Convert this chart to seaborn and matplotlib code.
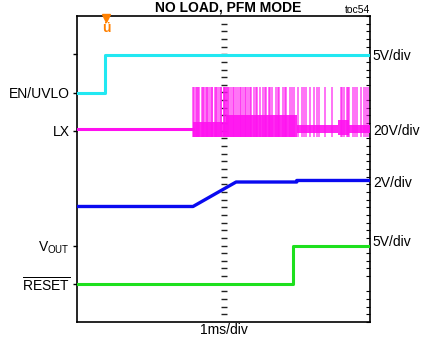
import numpy as np
import pandas as pd
import matplotlib
matplotlib.use("Agg")
import matplotlib.pyplot as plt
from matplotlib.ticker import MultipleLocator
import seaborn as sns

# ---- data (oscilloscope divisions: x 0..10, y 0..8) ----
en_x = [0.0, 0.95, 0.95, 10.0]
en_y = [6.0, 6.0, 6.98, 6.98]

lx_base_x = [0.0, 3.96]
lx_base_y = [5.05, 5.05]
lx_band_x = [3.96, 5.1, 5.1, 7.5, 7.5, 8.9, 8.9, 9.3, 9.3, 10.0]
lx_band_lo = [4.84, 4.84, 4.84, 4.84, 4.94, 4.94, 4.88, 4.88, 4.94, 4.94]
lx_band_hi = [5.22, 5.22, 5.42, 5.42, 5.14, 5.14, 5.28, 5.28, 5.14, 5.14]
lx_spike_x = [3.97, 4.0, 4.05, 4.1, 4.14, 4.18, 4.25, 4.3, 4.33, 4.4, 4.44,
              4.47, 4.55, 4.6, 4.62, 4.7, 4.74, 4.78, 4.85, 4.9, 4.92, 5.0,
              5.03, 5.05, 5.08, 5.12, 5.16, 5.2, 5.27, 5.31, 5.35, 5.43, 5.5,
              5.55, 5.6, 5.68, 5.72, 5.77, 5.85, 5.9, 5.95, 6.05, 6.1, 6.15,
              6.25, 6.35, 6.4, 6.45, 6.55, 6.6, 6.66, 6.78, 6.85, 6.9, 7.02,
              7.1, 7.15, 7.28, 7.35, 7.42, 7.55, 7.68, 7.75, 7.82, 7.95, 8.1,
              8.18, 8.25, 8.45, 8.7, 9.02, 9.05, 9.12, 9.2, 9.25, 9.3, 9.42,
              9.5, 9.55, 9.68, 9.8, 9.86, 9.92]
lx_spike_top = 6.14

vout_x = [0.0, 3.96, 5.43, 7.5, 7.5, 10.0]
vout_y = [3.02, 3.02, 3.66, 3.66, 3.70, 3.70]

rst_x = [0.0, 7.37, 7.37, 10.0]
rst_y = [0.99, 0.99, 1.99, 1.99]

left_ticks = [7, 6, 5, 2, 1]
left_labels = ["", "EN/UVLO", "LX", r"V$_{\mathrm{OUT}}$", r"$\overline{\mathrm{RESET}}$"]
right_label_y = [6.95, 5.0, 3.63, 2.08]
right_labels = ["5V/div", "20V/div", "2V/div", "5V/div"]
graticule_y = np.arange(0.2, 7.81, 0.2)

sns.set_theme(style="white")
plt.rcParams["font.family"] = ["Liberation Sans", "DejaVu Sans"]
plt.rcParams["mathtext.fontset"] = "custom"
plt.rcParams["mathtext.rm"] = "Liberation Sans"
plt.rcParams["mathtext.it"] = "Liberation Sans:italic"
plt.rcParams["mathtext.bf"] = "Liberation Sans:bold"
plt.rcParams["text.color"] = "black"
plt.rcParams["axes.labelcolor"] = "black"
plt.rcParams["ytick.color"] = "black"
plt.rcParams["xtick.color"] = "black"

fig = plt.figure(figsize=(4.29, 3.39), dpi=100)
ax = fig.add_axes([77/429, 17/339, 293/429, 306/339])

cyan = "#22E8F2"
mag = "#FF10F0"
blue = "#0A0AF0"
green = "#1EE01E"

# graticule center line
ax.plot([5.0]*len(graticule_y), graticule_y, ls="none", marker="_",
        ms=4, mew=1.0, color="#222222", zorder=1)

sns.lineplot(x=en_x, y=en_y, ax=ax, color=cyan, lw=2.2, sort=False, estimator=None, zorder=3)
sns.lineplot(x=lx_base_x, y=lx_base_y, ax=ax, color=mag, lw=2.2, sort=False, estimator=None, zorder=3)
ax.fill_between(lx_band_x, lx_band_lo, lx_band_hi, color=mag, lw=0, alpha=0.9, zorder=3)
ax.vlines(lx_spike_x, 4.84, lx_spike_top, color=mag, lw=1.1, alpha=0.75, zorder=3)
sns.lineplot(x=vout_x, y=vout_y, ax=ax, color=blue, lw=2.4, sort=False, estimator=None, zorder=3)
sns.lineplot(x=rst_x, y=rst_y, ax=ax, color=green, lw=2.2, sort=False, estimator=None, zorder=3)

# trigger marker
ax.plot([1.0], [7.96], marker="v", ms=6, color="#FF8000", clip_on=False, zorder=5)
ax.text(1.0, 7.68, "ü", color="#FF8000", fontsize=10, fontweight="bold",
        ha="center", va="center", zorder=5)

ax.set_xlim(0, 10)
ax.set_ylim(0, 8)
ax.set_xticks([])
ax.set_yticks(left_ticks)
ax.set_yticklabels(left_labels, fontsize=10)
ax.yaxis.set_minor_locator(MultipleLocator(0.2))
ax.tick_params(axis="y", which="major", left=True, right=False, direction="out",
               length=3, width=1, pad=2, colors="black")
ax.tick_params(axis="y", which="minor", left=False, right=True, direction="in",
               length=3, width=0.8, colors="black")
for s in ax.spines.values():
    s.set_color("black")
    s.set_linewidth(1.2)
ax.set_xlabel("1ms/div", fontsize=10, labelpad=1)
ax.set_ylabel("")

for yv, lab in zip(right_label_y, right_labels):
    ax.text(1.01, yv, lab, transform=ax.get_yaxis_transform(), fontsize=10,
            ha="left", va="center")

ax.text(1.0, 1.004, "toc54", transform=ax.transAxes, fontsize=7.5,
        ha="right", va="bottom")
fig.text(228/429, (339-12)/339, "NO LOAD, PFM MODE", fontsize=10,
         fontweight="bold", ha="center", va="baseline")

fig.savefig("out.png", dpi=100)
